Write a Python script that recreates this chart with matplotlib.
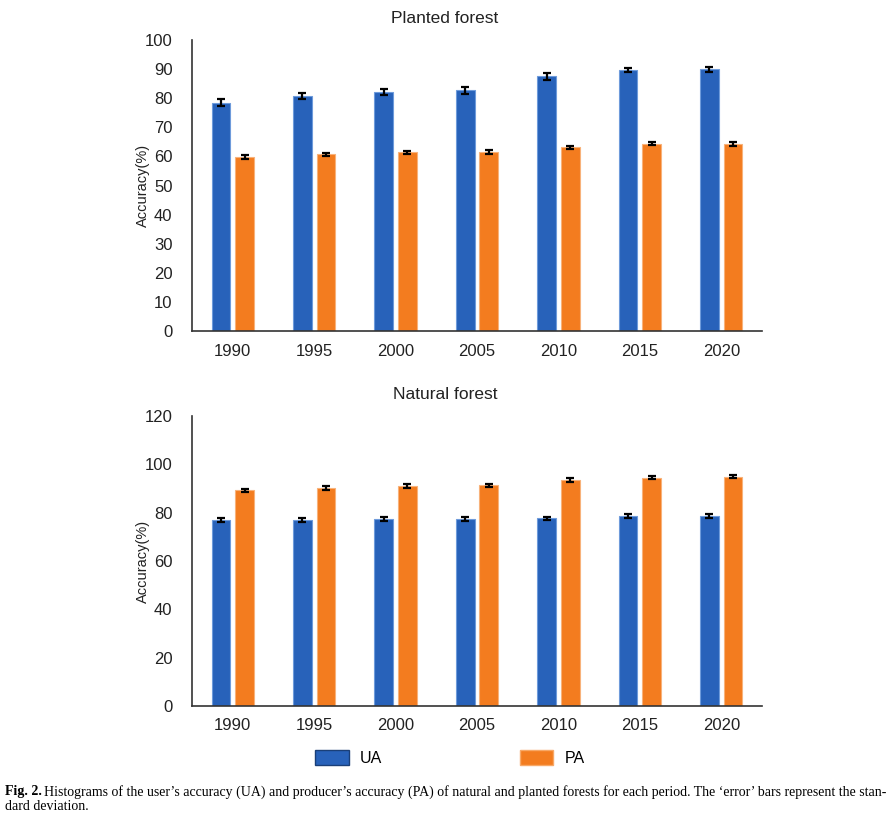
import numpy as np
import matplotlib.pyplot as plt
from matplotlib.patches import Patch

plt.rcParams["font.family"] = ["Liberation Sans", "DejaVu Sans"]

years = ["1990", "1995", "2000", "2005", "2010", "2015", "2020"]

planted_ua = [78.5, 80.8, 82.2, 82.7, 87.5, 89.7, 89.9]
planted_ua_sd = [1.1, 1.1, 1.1, 1.1, 1.1, 0.8, 0.8]
planted_pa = [59.8, 60.7, 61.4, 61.5, 63.1, 64.3, 64.4]
planted_pa_sd = [0.7, 0.6, 0.6, 0.7, 0.5, 0.5, 0.7]

natural_ua = [77.0, 77.1, 77.4, 77.4, 77.7, 78.5, 78.5]
natural_ua_sd = [0.8, 0.8, 0.7, 0.7, 0.7, 0.8, 0.8]
natural_pa = [89.2, 90.2, 91.0, 91.3, 93.5, 94.5, 94.8]
natural_pa_sd = [0.7, 0.8, 0.7, 0.7, 0.7, 0.6, 0.6]

blue = "#2862BA"
orange = "#F37C1F"

fig = plt.figure(figsize=(8.95, 8.15), dpi=100)
W, H = 895, 815


def make_axes(left, top, right, bottom):
    return fig.add_axes([left / W, 1 - bottom / H, (right - left) / W, (bottom - top) / H])


def draw(ax, ua, ua_sd, pa, pa_sd, ymax, step, title):
    x = np.arange(len(years))
    w = 0.23
    ax.bar(x - 0.145, ua, w, color=blue, edgecolor="#6E9BDB", linewidth=0.8,
           yerr=ua_sd, capsize=3, error_kw=dict(ecolor="black", elinewidth=1.6, capthick=1.6))
    ax.bar(x + 0.145, pa, w, color=orange, edgecolor="#F8B27A", linewidth=0.8,
           yerr=pa_sd, capsize=3, error_kw=dict(ecolor="black", elinewidth=1.6, capthick=1.6))
    ax.set_xlim(-0.5, len(years) - 0.5)
    ax.set_ylim(0, ymax)
    ax.set_yticks(np.arange(0, ymax + 1, step))
    ax.set_xticks(x)
    ax.set_xticklabels(years)
    ax.tick_params(axis="both", length=0, labelsize=12, colors="#222222")
    ax.tick_params(axis="y", pad=14)
    ax.tick_params(axis="x", pad=9)
    for s in ["top", "right"]:
        ax.spines[s].set_visible(False)
    for s in ["left", "bottom"]:
        ax.spines[s].set_color("#333333")
        ax.spines[s].set_linewidth(1.2)
    ax.set_ylabel("Accuracy(%)", fontsize=10.5, labelpad=-4, color="#222222")
    # the title sits left of the axes centre in the original
    ax.set_title(title, fontsize=12.5, pad=12, color="#222222", x=(445 - 192) / 570)


ax1 = make_axes(192, 40, 762, 331)
draw(ax1, planted_ua, planted_ua_sd, planted_pa, planted_pa_sd, 100, 10, "Planted forest")

ax2 = make_axes(192, 416, 762, 706)
draw(ax2, natural_ua, natural_ua_sd, natural_pa, natural_pa_sd, 120, 20, "Natural forest")

handles = [Patch(facecolor=blue, edgecolor="#1A3F78", label="UA"),
           Patch(facecolor=orange, edgecolor="#F8A866", label="PA")]
fig.legend(handles=handles, loc="center", bbox_to_anchor=(450 / W, 1 - 758 / H), ncol=2,
           frameon=False, fontsize=11.5, handlelength=2.1, handleheight=1.1,
           handletextpad=0.7, columnspacing=8.6)

cap = dict(fontsize=10, family=["Liberation Serif", "DejaVu Serif"], va="center")
fig.text(5 / W, 1 - 792 / H, "Fig. 2.", weight="bold", **cap)
fig.text(44 / W, 1 - 792 / H,
         "Histograms of the user\u2019s accuracy (UA) and producer\u2019s accuracy (PA) of natural and planted "
         "forests for each period. The \u2018error\u2019 bars represent the stan-", **cap)
fig.text(5 / W, 1 - 807 / H, "dard deviation.", **cap)

fig.savefig("out.png", dpi=100)
